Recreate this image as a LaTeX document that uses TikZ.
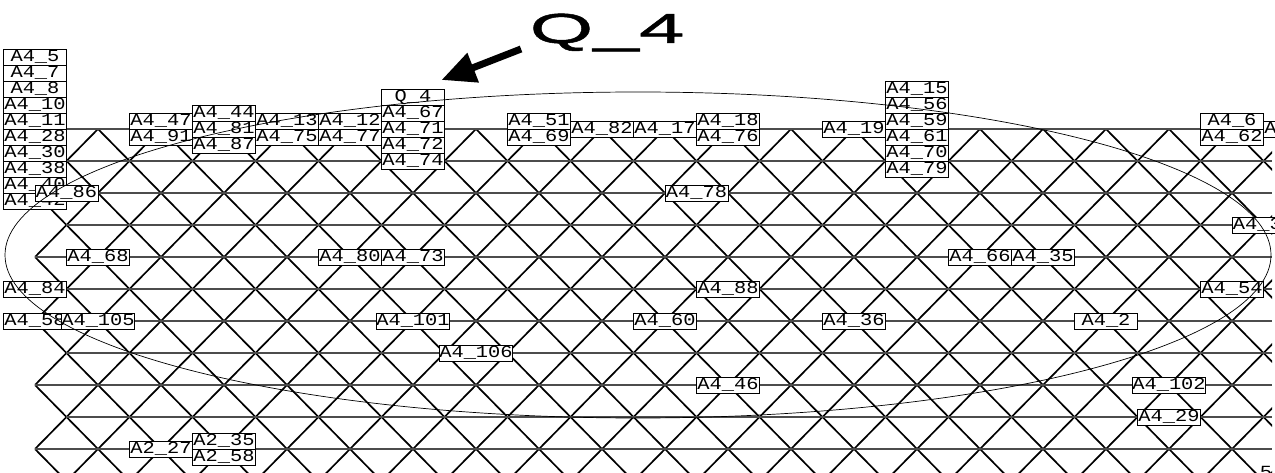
\documentclass[tikz,border=0pt]{standalone}
\usepackage{fontspec}
\newfontfamily\labfont[FakeStretch=1.2]{Liberation Mono}
\newfontfamily\bigfont[FakeStretch=1.95, FakeBold=1.2]{Liberation Sans}
\usetikzlibrary{arrows.meta, positioning}

\begin{document}
\begin{tikzpicture}[
  x=31.5pt, y=-32pt,
  node distance=0pt,
  lab/.style={draw, fill=white, line width=0.9pt, outer sep=0pt, inner sep=0pt,
    minimum width=63pt, minimum height=16pt, font=\fontsize{17}{17}\labfont},
  hline/.style={black!70, line width=1.2pt},
  dline/.style={black, line width=1.7pt},
  >=Stealth
]
  \useasboundingbox (-3.1111,-4.0313) rectangle (37.3651,10.75);

  % lattice
  \begin{scope}
    \clip (-2,0) rectangle (37.27,10.75);
    \foreach \k in {-6,...,18} \draw[dline] (2*\k,0) -- ++(12,12);
    \foreach \k in {-1,...,24} \draw[dline] (2*\k,0) -- ++(-12,12);
  \end{scope}
  \foreach \j in {0,2,...,10} \draw[hline] (-2,\j) -- (37.27,\j);
  \foreach \j in {1,3,...,9} \draw[hline] (-1,\j) -- (37.27,\j);

  % left column
  \node[lab] (a5) at (-2,-2.25) {A4\_5};
  \node[lab, below=of a5] (a7) {A4\_7};
  \node[lab, below=of a7] (a8) {A4\_8};
  \node[lab, below=of a8] (a10) {A4\_10};
  \node[lab, below=of a10] (a11) {A4\_11};
  \node[lab, below=of a11] (a28) {A4\_28};
  \node[lab, below=of a28] (a30) {A4\_30};
  \node[lab, below=of a30] (a38) {A4\_38};
  \node[lab, below=of a38] (a40) {A4\_40};
  \node[lab, below=of a40] (a42) {A4\_42};
  \node[lab] (a86) at (-1,2) {A4\_86};

  % top row
  \node[lab] (a47) at (2,-0.25) {A4\_47};
  \node[lab, below=of a47] (a91) {A4\_91};
  \node[lab] (a44) at (4,-0.5) {A4\_44};
  \node[lab, below=of a44] (a81) {A4\_81};
  \node[lab, below=of a81] (a87) {A4\_87};
  \node[lab] (a13) at (6,-0.25) {A4\_13};
  \node[lab, below=of a13] (a75) {A4\_75};
  \node[lab] (a12) at (8,-0.25) {A4\_12};
  \node[lab, below=of a12] (a77) {A4\_77};
  \node[lab] (q4) at (10,-1) {Q\_4};
  \node[lab, below=of q4] (a67) {A4\_67};
  \node[lab, below=of a67] (a71) {A4\_71};
  \node[lab, below=of a71] (a72) {A4\_72};
  \node[lab, below=of a72] (a74) {A4\_74};
  \node[lab] (a51) at (14,-0.25) {A4\_51};
  \node[lab, below=of a51] (a69) {A4\_69};
  \node[lab] (a82) at (16,0) {A4\_82};
  \node[lab] (a17) at (18,0) {A4\_17};
  \node[lab] (a18) at (20,-0.25) {A4\_18};
  \node[lab, below=of a18] (a76) {A4\_76};
  \node[lab] (a19) at (24,0) {A4\_19};
  \node[lab] (a15) at (26,-1.25) {A4\_15};
  \node[lab, below=of a15] (a56) {A4\_56};
  \node[lab, below=of a56] (a59) {A4\_59};
  \node[lab, below=of a59] (a61) {A4\_61};
  \node[lab, below=of a61] (a70) {A4\_70};
  \node[lab, below=of a70] (a79) {A4\_79};
  \node[lab] (a6) at (36,-0.25) {A4\_6};
  \node[lab, below=of a6] (a62) {A4\_62};
  \node[lab] (a14) at (38,0) {A4\_14};

  % inner labels
  \node[lab] (a78) at (19,2) {A4\_78};
  \node[lab] (a33) at (37,3) {A4\_33};
  \node[lab] (a68) at (0,4) {A4\_68};
  \node[lab] (a80) at (8,4) {A4\_80};
  \node[lab] (a73) at (10,4) {A4\_73};
  \node[lab] (a66) at (28,4) {A4\_66};
  \node[lab] (a35) at (30,4) {A4\_35};
  \node[lab] (a84) at (-2,5) {A4\_84};
  \node[lab] (a88) at (20,5) {A4\_88};
  \node[lab] (a54) at (36,5) {A4\_54};
  \node[lab] (a58) at (-2,6) {A4\_58};
  \node[lab] (a105) at (0,6) {A4\_105};
  \node[lab] (a101) at (10,6) {A4\_101};
  \node[lab] (a60) at (18,6) {A4\_60};
  \node[lab] (a36) at (24,6) {A4\_36};
  \node[lab] (a2) at (32,6) {A4\_2};
  \node[lab] (a106) at (12,7) {A4\_106};
  \node[lab] (a46) at (20,8) {A4\_46};
  \node[lab] (a102) at (34,8) {A4\_102};
  \node[lab] (a29) at (34,9) {A4\_29};
  \node[lab] (b27) at (2,10) {A2\_27};
  \node[lab] (b35) at (4,9.75) {A2\_35};
  \node[lab, below=of b35] (b58) {A2\_58};
  \node[font=\fontsize{17}{17}\labfont, inner sep=0pt, anchor=north] (n5) at (37.08,10.55) {5};

  % region
  \draw[line width=0.7pt] (17.143,3.9375) ellipse [x radius=633pt, y radius=163pt];

  % marker
  \node[font=\fontsize{42}{42}\bigfont, inner sep=0pt, anchor=base] (title) at (16.16,-2.6875) {Q\_4};
  \coordinate (tail) at (13.43,-2.5);
  \draw[line width=7pt, -{Triangle[length=34pt, width=30pt]}] (tail) -- ([xshift=-3pt, yshift=9pt]q4.north east);
\end{tikzpicture}
\end{document}
